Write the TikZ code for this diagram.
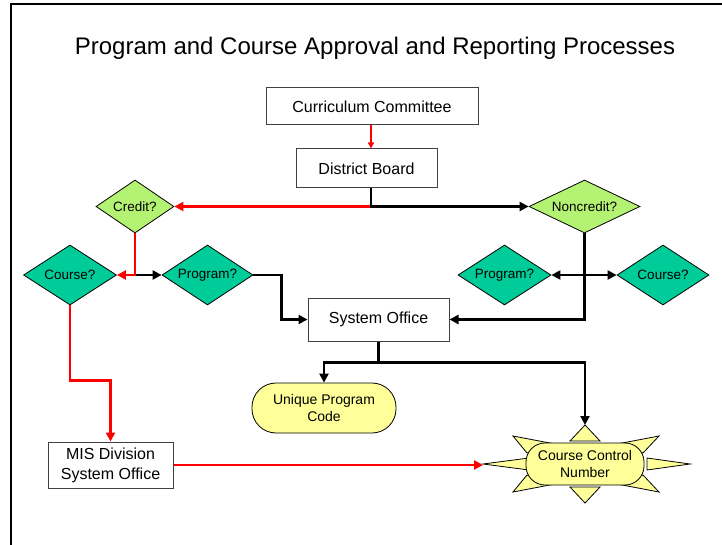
\documentclass[tikz,border=0pt]{standalone}
\usepackage{fontspec}
\setmainfont{Liberation Sans}
\usepackage{xcolor}
\usepackage{tikz}
\usetikzlibrary{shapes.geometric}
\usetikzlibrary{arrows.meta}
\tikzset{>={Triangle[length=9pt,width=9pt]}}
\definecolor{creditgreen}{RGB}{180,242,115}
\definecolor{askteal}{RGB}{0,204,153}
\definecolor{codeyellow}{RGB}{255,255,153}
\definecolor{boxline}{RGB}{64,64,64}

\begin{document}
\begin{tikzpicture}[x=1pt, y=-1pt, box/.style={rectangle, draw=boxline, fill=white, line width=1pt, inner sep=0pt, align=center, font=\fontsize{16}{20}\selectfont}, ask/.style={diamond, draw=black, line width=0.8pt, inner sep=0pt, aspect=2, font=\fontsize{13.5}{16}\selectfont}, goal/.style={rectangle, draw=black, fill=codeyellow, line width=0.8pt, inner sep=0pt, align=center, font=\fontsize{14}{17}\selectfont}, spike/.style={draw=black, fill=codeyellow, line width=0.8pt, line join=miter}, redline/.style={red, line width=2.6pt}, blackline/.style={black, line width=2.8pt}]

    \useasboundingbox (0,0) rectangle (722,545);
    \draw[line width=2pt] (11,545) -- (11,4) -- (722,4);

    %Nodes
    \node[font=\fontsize{24}{28}\selectfont, anchor=base](title) at (375,55){Program and Course Approval and Reporting Processes};
    \node[box, minimum width=212pt, minimum height=37pt](committee) at (372,106.5){Curriculum Committee};
    \node[box, minimum width=141pt, minimum height=39pt](board) at (366.5,168.5){District Board};
    \node[ask, fill=creditgreen, minimum width=78pt, minimum height=53pt](credit) at (135,206.5){Credit?};
    \node[ask, fill=creditgreen, minimum width=111pt, minimum height=53pt](noncredit) at (584.5,206.5){Noncredit?};
    \node[ask, fill=askteal, minimum width=93pt, minimum height=60pt](course) at (70,275){Course?};
    \node[ask, fill=askteal, minimum width=91pt, minimum height=60pt](program) at (207.5,275){Program?};
    \node[ask, fill=askteal, minimum width=93pt, minimum height=60pt](ncprogram) at (504.5,275){Program?};
    \node[ask, fill=askteal, minimum width=92pt, minimum height=60pt](nccourse) at (663,275){Course?};
    \node[box, minimum width=141pt, minimum height=43pt](system) at (378.5,319.5){System Office};
    \node[goal, minimum width=144pt, minimum height=50pt, rounded corners=24pt](code) at (324,408){Unique Program\\Code};
    \node[box, minimum width=125pt, minimum height=46pt](mis) at (110.5,465){MIS Division\\System Office};

    %Course control number star
    \coordinate (ccnc) at (585,464);
    \begin{scope}[shift={(ccnc)}]
        \draw[spike] (0,-39) -- (15,-23) -- (-15,-23) -- cycle;
        \draw[spike] (0,39) -- (15,23) -- (-15,23) -- cycle;
        \draw[spike] (-102,0) -- (-56,-6) -- (-56,6) -- cycle;
        \draw[spike] (105,0) -- (62,-6) -- (62,6) -- cycle;
        \draw[spike] (-72,-28) -- (-30,-20) -- (-58,-11) -- cycle;
        \draw[spike] (74,-28) -- (32,-20) -- (58,-11) -- cycle;
        \draw[spike] (-72,28) -- (-30,20) -- (-58,11) -- cycle;
        \draw[spike] (74,28) -- (32,20) -- (58,11) -- cycle;
    \end{scope}
    \node[goal, minimum width=118pt, minimum height=42pt, rounded corners=19pt](ccn) at (ccnc){Course Control\\Number};
    \coordinate (ccntop) at (585,425);
    \coordinate (ccnleft) at (483,464);
    \coordinate (trunk) at (371,206.5);

    %Lines
    \draw[->, red, line width=1.5pt, >={Triangle[length=6pt,width=6pt]}] (committee.south -| trunk) -- (board.north -| trunk);
    \draw[->, redline] (trunk) -- (credit.east);
    \draw[->, blackline] (board.south -| trunk) -- (trunk) -- (noncredit.west);
    \draw[->, blackline] (credit.south |- program.west) -- (program.west);
    \draw[->, redline] (credit.south) -- (credit.south |- course.east) -- (course.east);
    \draw[->, blackline] (program.east) -- ++(28,0) |- (system.west);
    \draw[->, blackline] (noncredit.south) |- (system.east);
    \draw[<->, blackline] (ncprogram.east) -- (nccourse.west);
    \draw[->, blackline] (system.south) -- ++(0,21) -| (code.north);
    \draw[->, blackline] (system.south) -- ++(0,21) -| (ccntop);
    \draw[->, redline] (course.south) -- ++(0,75) -| (mis.north);
    \draw[->, redline] (mis.east) -- (mis.east -| ccnleft);

\end{tikzpicture}
\end{document}
